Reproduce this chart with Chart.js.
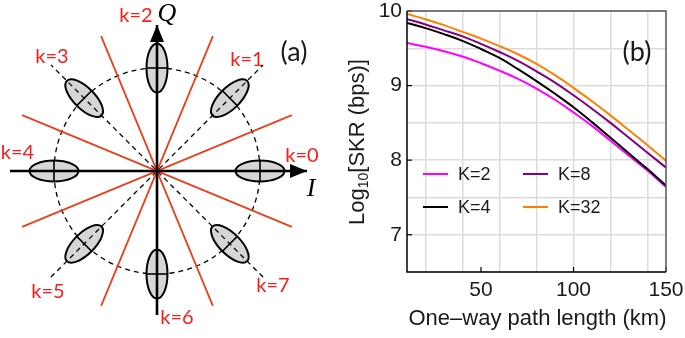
<!DOCTYPE html>
<html>
<head>
<meta charset="utf-8">
<script src="https://cdn.jsdelivr.net/npm/chart.js@4.4.1/dist/chart.umd.min.js"></script>
<style>
  html, body { margin: 0; padding: 0; background: #fff; }
  #wrap { position: relative; width: 685px; height: 338px; overflow: hidden; }
  #constellation { position: absolute; left: 0; top: 0; }
  #skrChart { position: absolute; left: 330px; top: 0; }
</style>
</head>
<body>
<div id="wrap">
  <canvas id="constellation" width="330" height="338"></canvas>
  <canvas id="skrChart" width="355" height="338"></canvas>
</div>
<script>
// --- Panel (a): 8-state constellation, units where the ring radius is ~1 ---
const symbolIndex = [0, 1, 2, 3, 4, 5, 6, 7];
const symbolLabels = ['k=0', 'k=1', 'k=2', 'k=3', 'k=4', 'k=5', 'k=6', 'k=7'];
const symbolLabelX = [1.45, 0.90, -0.21, -1.05, -1.395, -1.09, 0.20, 1.16];
const symbolLabelY = [0.15, 1.11, 1.55, 1.14, 0.18, -1.21, -1.47, -1.15];
const ringRadius = 1.03;
const ellipseAxes = [0.245, 0.105];           // radial, tangential half-axes
const boundaryAngles = [22.5, 67.5, 112.5, 157.5];
const boundaryReach = 1.46;
const diagonalAngles = [45, 135];
const diagonalReach = 1.5;
const iAxisRange = [-1.47, 1.50];
const qAxisRange = [-1.44, 1.46];
const axisNames = ['I', 'Q'];
const axisNameX = [1.54, 0.10];
const axisNameY = [-0.18, 1.57];
const panelTagA = ['(a)', 1.37, 1.185];

// --- Panel (b): SKR vs path length ---
const pathLength = [10, 20, 30, 40, 50, 60, 70, 80, 90, 100, 110, 120, 130, 140, 150];
const skrK2  = [9.57, 9.52, 9.46, 9.39, 9.30, 9.20, 9.09, 8.96, 8.81, 8.64, 8.46, 8.26, 8.06, 7.86, 7.64];
const skrK4  = [9.84, 9.77, 9.69, 9.60, 9.49, 9.37, 9.22, 9.06, 8.89, 8.71, 8.51, 8.30, 8.09, 7.88, 7.66];
const skrK8  = [9.89, 9.82, 9.74, 9.66, 9.56, 9.45, 9.33, 9.19, 9.04, 8.87, 8.69, 8.50, 8.30, 8.10, 7.90];
const skrK32 = [9.96, 9.89, 9.81, 9.72, 9.63, 9.53, 9.42, 9.29, 9.14, 8.97, 8.79, 8.60, 8.40, 8.20, 7.99];
const seriesLabels = ['K=2', 'K=4', 'K=8', 'K=32'];
const seriesColors = ['#ff00ff', '#000000', '#800080', '#ff8000'];
const seriesValues = [skrK2, skrK4, skrK8, skrK32];
const seriesOrder = [1, 0, 2, 3];
const xLabelTicks = [50, 100, 150];
const xGridTicks = [20, 40, 60, 80, 100, 120, 140];
const yLabelTicks = [7, 8, 9, 10];

const deg = Math.PI / 180;
const gridGray = '#dcdcdc';
const textDark = '#1a1a1a';

function spoke(angle, reach) {
  const c = Math.cos(angle * deg), s = Math.sin(angle * deg);
  return [{ x: -reach * c, y: -reach * s }, { x: reach * c, y: reach * s }];
}

function lineSet(data, color, width, dash, order) {
  return { data, showLine: true, borderColor: color, borderWidth: width,
    borderDash: dash, pointRadius: 0, order, clip: false };
}

function arrowHead(ctx, tipX, tipY, dirX, dirY) {
  const len = 17, half = 7;
  const bx = tipX - dirX * len, by = tipY - dirY * len;
  ctx.beginPath();
  ctx.moveTo(tipX, tipY);
  ctx.lineTo(bx - dirY * half, by + dirX * half);
  ctx.lineTo(bx + dirY * half, by - dirX * half);
  ctx.closePath();
  ctx.fill();
}

const constellationDecor = {
  id: 'constellationDecor',
  beforeDatasetsDraw(chart) {
    const { ctx, scales: { x, y } } = chart;
    const unit = x.getPixelForValue(1) - x.getPixelForValue(0);
    ctx.save();
    ctx.setLineDash([5, 4]);
    ctx.lineWidth = 1.3;
    ctx.strokeStyle = '#000';
    ctx.beginPath();
    ctx.arc(x.getPixelForValue(0), y.getPixelForValue(0), ringRadius * unit, 0, 2 * Math.PI);
    ctx.stroke();
    ctx.setLineDash([]);
    symbolIndex.forEach(k => {
      const a = k * 45 * deg;
      const px = x.getPixelForValue(ringRadius * Math.cos(a));
      const py = y.getPixelForValue(ringRadius * Math.sin(a));
      ctx.beginPath();
      ctx.ellipse(px, py, ellipseAxes[0] * unit, ellipseAxes[1] * unit, -a, 0, 2 * Math.PI);
      ctx.fillStyle = '#d6d6d6';
      ctx.fill();
      ctx.lineWidth = 2;
      ctx.strokeStyle = '#000';
      ctx.stroke();
    });
    ctx.restore();
  },
  afterDatasetsDraw(chart) {
    const { ctx, scales: { x, y } } = chart;
    const unit = x.getPixelForValue(1) - x.getPixelForValue(0);
    ctx.save();
    // tangential tick through each symbol
    ctx.strokeStyle = '#000';
    ctx.lineWidth = 1.6;
    symbolIndex.forEach(k => {
      const a = k * 45 * deg;
      const px = x.getPixelForValue(ringRadius * Math.cos(a));
      const py = y.getPixelForValue(ringRadius * Math.sin(a));
      const h = ellipseAxes[1] * unit;
      ctx.beginPath();
      ctx.moveTo(px - Math.sin(a) * h, py - Math.cos(a) * h);
      ctx.lineTo(px + Math.sin(a) * h, py + Math.cos(a) * h);
      ctx.stroke();
    });
    // arrow heads on I and Q
    ctx.fillStyle = '#000';
    arrowHead(ctx, x.getPixelForValue(iAxisRange[1]), y.getPixelForValue(0), 1, 0);
    arrowHead(ctx, x.getPixelForValue(0), y.getPixelForValue(qAxisRange[1]), 0, -1);
    // labels
    ctx.textAlign = 'center';
    ctx.textBaseline = 'middle';
    ctx.font = '20px Lato';
    ctx.fillStyle = '#ff1a1a';
    symbolLabels.forEach((t, i) => {
      ctx.fillText(t, x.getPixelForValue(symbolLabelX[i]), y.getPixelForValue(symbolLabelY[i]));
    });
    ctx.fillStyle = '#000';
    ctx.font = 'italic 26px "Liberation Serif"';
    axisNames.forEach((t, i) => {
      ctx.fillText(t, x.getPixelForValue(axisNameX[i]), y.getPixelForValue(axisNameY[i]));
    });
    ctx.font = '27px Lato';
    ctx.fillStyle = textDark;
    ctx.fillText(panelTagA[0], x.getPixelForValue(panelTagA[1]), y.getPixelForValue(panelTagA[2]));
    ctx.restore();
  }
};

new Chart(document.getElementById('constellation'), {
  type: 'scatter',
  data: {
    datasets: [
      lineSet(iAxisRange.map(v => ({ x: v, y: 0 })), '#000', 2.6, [], 0),
      lineSet(qAxisRange.map(v => ({ x: 0, y: v })), '#000', 2.6, [], 0),
      ...boundaryAngles.map(a => lineSet(spoke(a, boundaryReach), '#e8401c', 1.8, [], 1)),
      ...diagonalAngles.map(a => lineSet(spoke(a, diagonalReach), '#000', 1.3, [5, 4], 2))
    ]
  },
  options: {
    responsive: false,
    animation: false,
    devicePixelRatio: 1,
    layout: { padding: 0 },
    plugins: { legend: { display: false }, tooltip: { enabled: false } },
    scales: {
      x: { type: 'linear', display: false, min: -1.57, max: 1.73 },
      y: { type: 'linear', display: false, min: -1.67, max: 1.71 }
    }
  },
  plugins: [constellationDecor]
});

// --- Panel (b) decorations: frame, inner ticks, legend, titles ---
const skrDecor = {
  id: 'skrDecor',
  afterDraw(chart) {
    const { ctx, chartArea: area, scales: { x, y } } = chart;
    ctx.save();
    // inner ticks
    ctx.strokeStyle = '#000';
    ctx.lineWidth = 1.2;
    xLabelTicks.forEach(v => {
      const px = x.getPixelForValue(v);
      ctx.beginPath(); ctx.moveTo(px, area.bottom); ctx.lineTo(px, area.bottom - 5); ctx.stroke();
    });
    yLabelTicks.forEach(v => {
      const py = y.getPixelForValue(v);
      ctx.beginPath(); ctx.moveTo(area.left, py); ctx.lineTo(area.left + 5, py); ctx.stroke();
    });
    // frame
    ctx.lineWidth = 1.5;
    ctx.strokeStyle = '#555';
    ctx.beginPath();
    ctx.moveTo(area.left, area.top); ctx.lineTo(area.right, area.top); ctx.lineTo(area.right, area.bottom);
    ctx.stroke();
    ctx.strokeStyle = '#000';
    ctx.beginPath();
    ctx.moveTo(area.left, area.top); ctx.lineTo(area.left, area.bottom); ctx.lineTo(area.right, area.bottom);
    ctx.stroke();
    // legend, two columns
    ctx.font = '18px "Liberation Sans"';
    ctx.textAlign = 'left';
    ctx.textBaseline = 'middle';
    seriesLabels.forEach((t, i) => {
      const lx = area.left + 16 + Math.floor(i / 2) * 100;
      const ly = area.top + 163 + (i % 2) * 33;
      ctx.strokeStyle = seriesColors[i];
      ctx.lineWidth = 2;
      ctx.beginPath(); ctx.moveTo(lx, ly); ctx.lineTo(lx + 25, ly); ctx.stroke();
      ctx.fillStyle = textDark;
      ctx.fillText(t, lx + 35, ly + 1);
    });
    // (b)
    ctx.font = '27px Lato';
    ctx.textAlign = 'center';
    ctx.fillText('(b)', area.right - 29, area.top + 41);
    // x title
    ctx.font = '22px "Liberation Sans"';
    ctx.textBaseline = 'alphabetic';
    ctx.fillText('One\u2013way path length (km)', (area.left + area.right) / 2 + 1, 325);
    // y title with subscript
    const big = '22px "Liberation Sans"', small = '14px "Liberation Sans"';
    ctx.font = big; const w1 = ctx.measureText('Log').width; const w3 = ctx.measureText('[SKR (bps)]').width;
    ctx.font = small; const w2 = ctx.measureText('10').width;
    ctx.translate(28, 142);
    ctx.rotate(-Math.PI / 2);
    ctx.textAlign = 'left';
    let sx = -(w1 + w2 + w3) / 2;
    ctx.font = big; ctx.fillText('Log', sx, 6); sx += w1;
    ctx.font = small; ctx.fillText('10', sx, 10); sx += w2;
    ctx.font = big; ctx.fillText('[SKR (bps)]', sx, 6);
    ctx.restore();
  }
};

new Chart(document.getElementById('skrChart'), {
  type: 'line',
  data: {
    datasets: seriesLabels.map((label, i) => ({
      label,
      data: pathLength.map((d, j) => ({ x: d, y: seriesValues[i][j] })),
      borderColor: seriesColors[i],
      borderWidth: 2,
      pointRadius: 0,
      tension: 0.4,
      order: seriesOrder[i]
    }))
  },
  options: {
    responsive: false,
    animation: false,
    devicePixelRatio: 1,
    layout: { padding: { left: 0, right: 19, top: 11, bottom: 0 } },
    plugins: { legend: { display: false }, tooltip: { enabled: false } },
    scales: {
      x: {
        type: 'linear', min: 10, max: 150,
        afterBuildTicks: s => { s.ticks = xLabelTicks.map(v => ({ value: v })); },
        afterFit: s => { s.height = 66; s.paddingLeft = 0; s.paddingRight = 0; },
        grid: { display: false, drawTicks: false },
        border: { display: false },
        ticks: { font: { size: 21, family: 'Liberation Sans' }, color: textDark, padding: 6, maxRotation: 0 }
      },
      xg: {
        type: 'linear', position: 'bottom', min: 10, max: 150,
        afterBuildTicks: s => { s.ticks = xGridTicks.map(v => ({ value: v })); },
        afterFit: s => { s.height = 0; s.paddingLeft = 0; s.paddingRight = 0; },
        grid: { color: gridGray, lineWidth: 1.5, drawTicks: false },
        border: { display: false },
        ticks: { display: false }
      },
      y: {
        type: 'linear', min: 6.5, max: 10,
        afterFit: s => { s.width = 77; s.paddingTop = 0; s.paddingBottom = 0; },
        ticks: {
          stepSize: 0.5,
          padding: 5,
          font: { size: 21, family: 'Liberation Sans', lineHeight: 1 },
          color: textDark,
          callback: v => (yLabelTicks.includes(v) ? v : '')
        },
        grid: { color: gridGray, lineWidth: 1.5, drawTicks: false },
        border: { display: false }
      }
    }
  },
  plugins: [skrDecor]
});
</script>
</body>
</html>
